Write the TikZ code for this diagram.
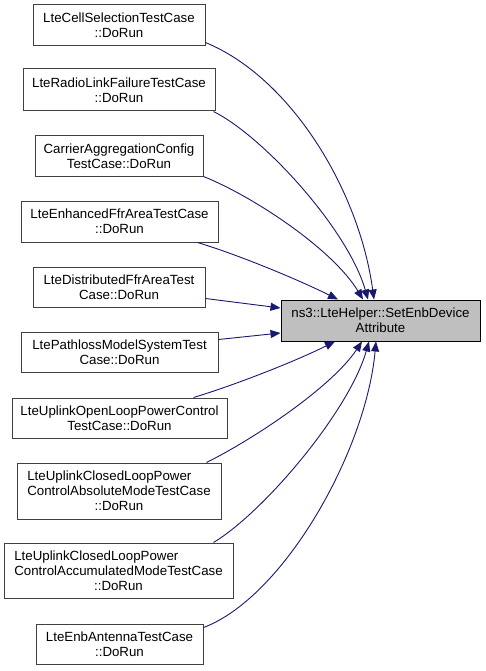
\documentclass[tikz,border=0pt]{standalone}
\usepackage{fontspec}
\setmainfont{Liberation Sans}
\usetikzlibrary{arrows.meta}
\definecolor{edgeblue}{HTML}{191970}
\definecolor{boxgray}{HTML}{BFBFBF}
\definecolor{bordergray}{HTML}{404040}
\begin{document}
\begin{tikzpicture}[x=1pt,y=-1pt,
  caller/.style={draw=bordergray,fill=white,line width=1pt,align=center,inner sep=0pt,
    font=\fontsize{13.3}{15}\selectfont},
  target/.style={draw=black,fill=boxgray,line width=1pt,align=center,inner sep=0pt,
    font=\fontsize{13.3}{15}\selectfont},
  link/.style={draw=edgeblue,line width=0.9pt,-{Triangle[length=10pt,width=8pt]},color=edgeblue}]
\useasboundingbox (0,0) rectangle (485,671);
\fill[white] (0,0) rectangle (485,671);
\node[target,minimum width=199pt,minimum height=41pt] (t) at (380.5,320.5) {ns3::LteHelper::SetEnbDevice\\Attribute};
\node[caller,minimum width=172pt,minimum height=41pt] (n1) at (119,25.5) {LteCellSelectionTestCase\\::DoRun};
\node[caller,minimum width=192pt,minimum height=42pt] (n2) at (119,90) {LteRadioLinkFailureTestCase\\::DoRun};
\node[caller,minimum width=168pt,minimum height=40pt] (n3) at (119,156) {CarrierAggregationConfig\\TestCase::DoRun};
\node[caller,minimum width=197pt,minimum height=41pt] (n4) at (119.5,221.5) {LteEnhancedFfrAreaTestCase\\::DoRun};
\node[caller,minimum width=172pt,minimum height=40pt] (n5) at (119,287) {LteDistributedFfrAreaTest\\Case::DoRun};
\node[caller,minimum width=197pt,minimum height=40pt] (n6) at (119.5,352) {LtePathlossModelSystemTest\\Case::DoRun};
\node[caller,minimum width=215pt,minimum height=40pt] (n7) at (119.5,418) {LteUplinkOpenLoopPowerControl\\TestCase::DoRun};
\node[caller,minimum width=204pt,minimum height=56pt] (n8) at (119,491) {\rlap{LteUplinkClosedLoopPower}\phantom{ControlAbsoluteModeTestCase}\\ControlAbsoluteModeTestCase\\::DoRun};
\node[caller,minimum width=229pt,minimum height=55pt] (n9) at (118.5,570.5) {\rlap{LteUplinkClosedLoopPower}\phantom{ControlAccumulatedModeTestCase}\\ControlAccumulatedModeTestCase\\::DoRun};
\node[caller,minimum width=167pt,minimum height=40pt] (n10) at (119.5,644) {LteEnbAntennaTestCase\\::DoRun};

\draw[link] ([yshift=4pt]n1.south east) .. controls +(85,35) and +(-15,-110) .. ([xshift=-6.5pt]t.north);
\draw[link] ([xshift=-2pt]n2.south east) .. controls +(50,25) and +(-20,-70) .. ([xshift=-12.5pt]t.north);
\draw[link] (n3.south east) .. controls +(50,20) and +(-30,-50) .. ([xshift=-17.5pt]t.north);
\draw[link] ([xshift=-21pt]n4.south east) .. controls +(40,12) and +(-40,-20) .. ([xshift=-42.5pt]t.north);
\draw[link] ([yshift=9pt]n5.south east) -- ([yshift=12.5pt]t.west);
\draw[link] ([yshift=-8pt]n6.north east) -- ([yshift=-12.5pt]t.west);
\draw[link] ([xshift=-34pt]n7.north east) .. controls +(40,-12) and +(-40,20) .. ([xshift=-45.5pt]t.south);
\draw[link] ([xshift=-15pt]n8.north east) .. controls +(50,-25) and +(-30,45) .. ([xshift=-18.5pt]t.south);
\draw[link] ([xshift=-20pt]n9.north east) .. controls +(50,-30) and +(-20,70) .. ([xshift=-11.5pt]t.south);
\draw[link] ([yshift=-4pt]n10.north east) .. controls +(80,-30) and +(-10,110) .. ([xshift=-4.5pt]t.south);
\end{tikzpicture}
\end{document}
